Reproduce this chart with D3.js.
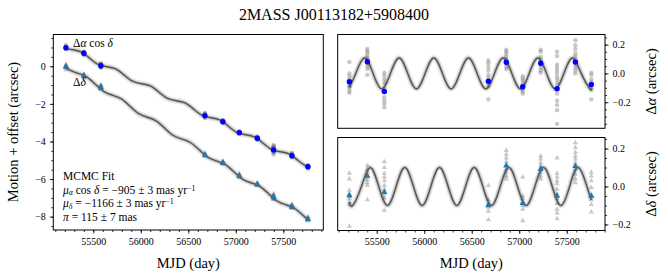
<!DOCTYPE html>
<html>
<head>
<meta charset="utf-8">
<script src="https://cdn.jsdelivr.net/npm/d3@7"></script>
<style>
  body { margin: 0; background: #fff; }
  svg text { font-family: "Liberation Serif", "Times New Roman", serif; fill: #000; }
</style>
</head>
<body>
<svg id="chart" width="668" height="280"></svg>
<script>
// epochs (MJD) and mean positions per epoch
const epochs = [55212, 55401, 55580, 56675, 56864, 57037, 57226, 57398, 57591, 57759];
const raMotion = [0.99, 0.69, 0.03, -2.63, -2.95, -3.53, -3.83, -4.45, -4.76, -5.34];
const decMotion = [-0.02, -0.50, -1.14, -4.72, -5.13, -5.83, -6.28, -6.97, -7.47, -8.14];
const raResid = [-0.058, 0.081, -0.126, -0.054, 0.077, -0.093, 0.070, -0.107, 0.079, -0.077];
const decResid = [-0.047, 0.055, -0.030, -0.100, 0.110, -0.088, 0.093, -0.050, 0.107, -0.050];

// single-frame residuals (grey) per epoch
const raFrames = [
  [0.08, 0.0, -0.02, -0.04, -0.06, -0.07, -0.09, -0.10, -0.12, -0.135],
  [0.17, 0.155, 0.14, 0.12, 0.105, 0.09, 0.07, 0.05, 0.03, -0.01],
  [0.005, -0.015, -0.04, -0.065, -0.105, -0.125, -0.165, -0.19, -0.21, -0.235],
  [0.09, 0.07, 0.045, 0.02, -0.01, -0.03, -0.05, -0.07, -0.09, -0.18],
  [0.165, 0.15, 0.135, 0.115, 0.10, 0.08, 0.065, 0.045, 0.03],
  [-0.02, -0.035, -0.05, -0.07, -0.09, -0.11, -0.125, -0.14],
  [0.165, 0.15, 0.115, 0.095, 0.075, 0.06, 0.04, 0.02, 0.005],
  [0.15, 0.12, 0.06, 0.04, 0.02, 0.0, -0.025, -0.045, -0.07, -0.105, -0.14, -0.19, -0.22, -0.255, -0.35],
  [0.23, 0.195, 0.17, 0.14, 0.12, 0.10, 0.08, 0.06, 0.04, 0.02, 0.0],
  [0.005, -0.01, -0.04, -0.06, -0.075, -0.09, -0.105, -0.18]
];
const decFrames = [
  [0.07, 0.04, -0.02, -0.04, -0.055, -0.065, -0.08, -0.095, -0.21],
  [0.11, 0.09, 0.075, 0.05, 0.035, 0.02, 0.005, -0.07],
  [0.13, 0.10, 0.07, 0.05, 0.03, 0.005, -0.015, -0.04, -0.06, -0.125],
  [0.005, -0.07, -0.09, -0.11, -0.13, -0.175],
  [0.19, 0.17, 0.15, 0.13, 0.11, 0.09, 0.075, 0.055, 0.04],
  [0.05, -0.05, -0.065, -0.085, -0.10, -0.12, -0.18],
  [0.16, 0.145, 0.125, 0.11, 0.09, 0.075, 0.055, 0.04],
  [0.15, 0.07, 0.05, 0.03, 0.015, -0.015, -0.04, -0.065, -0.09, -0.12, -0.14, -0.17],
  [0.23, 0.205, 0.18, 0.16, 0.145, 0.125, 0.11, 0.09, 0.065, 0.04, 0.02],
  [0.075, 0.055, 0.03, -0.005, -0.05, -0.07, -0.095, -0.135]
];

// fitted model, read at its turning points and crossings
const raCurveMjd = [55212, 55278.7, 55370, 55461.3, 55552.6, 55643.9, 55735.3, 55826.6, 55917.9, 56009.2,
  56100.5, 56191.8, 56283.1, 56374.4, 56465.8, 56557.1, 56648.4, 56739.7, 56831, 56922.3,
  57013.6, 57104.9, 57196.3, 57287.6, 57378.9, 57470.2, 57561.5, 57652.8, 57744.1, 57759];
const raCurveRes = [-0.097, 0, 0.107, 0, -0.107, 0, 0.107, 0, -0.107, 0, 0.107, 0, -0.107, 0, 0.107,
  0, -0.107, 0, 0.107, 0, -0.107, 0, 0.107, 0, -0.107, 0, 0.107, 0, -0.107, -0.104];
const raCurveMotion = [0.951, 0.883, 0.764, 0.430, 0.097, -0.022, -0.141, -0.475, -0.808, -0.927,
  -1.046, -1.380, -1.713, -1.832, -1.951, -2.285, -2.618, -2.737, -2.856, -3.190,
  -3.523, -3.642, -3.761, -4.095, -4.428, -4.547, -4.666, -5.000, -5.333, -5.367];
const decCurveMjd = [55212, 55247.4, 55338.7, 55430, 55521.3, 55612.6, 55703.9, 55795.3, 55886.6, 55977.9,
  56069.2, 56160.5, 56251.8, 56343.1, 56434.4, 56525.8, 56617.1, 56708.4, 56799.7, 56891,
  56982.3, 57073.6, 57164.9, 57256.3, 57347.6, 57438.9, 57530.2, 57621.5, 57712.8, 57759];
const decCurveRes = [-0.082, -0.1, 0, 0.1, 0, -0.1, 0, 0.1, 0, -0.1, 0, 0.1, 0, -0.1, 0, 0.1,
  0, -0.1, 0, 0.1, 0, -0.1, 0, 0.1, 0, -0.1, 0, 0.1, 0, -0.071];
const decCurveMotion = [-0.055, -0.186, -0.378, -0.569, -0.961, -1.352, -1.544, -1.735, -2.127, -2.518,
  -2.710, -2.901, -3.293, -3.684, -3.876, -4.067, -4.459, -4.850, -5.042, -5.233,
  -5.625, -6.016, -6.208, -6.399, -6.791, -7.182, -7.374, -7.565, -7.957, -8.175];

// fit results (mas)
const fitValues = [-905, -1166, 115];
const fitErrors = [3, 3, 7];

const xMajor = [55500, 56000, 56500, 57000, 57500];
const xMinor = d3.range(55100, 57901, 100);

const svg = d3.select('#chart');
const blue = '#0000ff', tblue = '#1f77b4';

function makePanel(id, box, xDomain, yDomain) {
  const x = d3.scaleLinear().domain(xDomain).range([box.x0, box.x1]);
  const y = d3.scaleLinear().domain(yDomain).range([box.y1, box.y0]);
  svg.append('clipPath').attr('id', id)
    .append('rect').attr('x', box.x0).attr('y', box.y0)
    .attr('width', box.x1 - box.x0).attr('height', box.y1 - box.y0);
  const g = svg.append('g').attr('clip-path', `url(#${id})`);
  return { x, y, g, box };
}

function drawCurve(p, xs, ys) {
  const pts = xs.map((d, i) => [d, ys[i]]);
  const line = d3.line().x(d => p.x(d[0])).y(d => p.y(d[1])).curve(d3.curveNatural);
  p.g.append('path').attr('d', line(pts)).attr('fill', 'none')
    .attr('stroke', '#000').attr('stroke-opacity', 0.08).attr('stroke-width', 6);
  p.g.append('path').attr('d', line(pts)).attr('fill', 'none')
    .attr('stroke', '#000').attr('stroke-opacity', 0.15).attr('stroke-width', 3.5);
  p.g.append('path').attr('d', line(pts)).attr('fill', 'none')
    .attr('stroke', '#555').attr('stroke-width', 1.4);
}

function greyDots(p, rows, base, shift, tri) {
  rows.forEach((row, i) => {
    row.forEach(v => {
      const cx = p.x(epochs[i]), cy = p.y(base[i] + v - shift[i]);
      if (tri) {
        p.g.append('path').attr('d', d3.symbol(d3.symbolTriangle, 12)())
          .attr('transform', `translate(${cx},${cy})`)
          .attr('fill', '#777').attr('fill-opacity', 0.4);
      } else {
        p.g.append('circle').attr('cx', cx).attr('cy', cy).attr('r', 2.2)
          .attr('fill', '#777').attr('fill-opacity', 0.4);
      }
    });
  });
}

function meanDots(p, vals, color, tri) {
  vals.forEach((v, i) => {
    const cx = p.x(epochs[i]), cy = p.y(v);
    if (tri) {
      p.g.append('path').attr('d', d3.symbol(d3.symbolTriangle, 17)())
        .attr('transform', `translate(${cx},${cy})`).attr('fill', color);
    } else {
      p.g.append('circle').attr('cx', cx).attr('cy', cy).attr('r', 2.7).attr('fill', color);
    }
  });
}

function frame(p) {
  const b = p.box;
  svg.append('rect').attr('x', b.x0).attr('y', b.y0)
    .attr('width', b.x1 - b.x0).attr('height', b.y1 - b.y0)
    .attr('fill', 'none').attr('stroke', '#000').attr('stroke-width', 1);
}

function styleAxis(sel) {
  sel.select('.domain').remove();
  sel.selectAll('line').attr('stroke', '#000').attr('stroke-width', 0.8);
  sel.selectAll('text').attr('font-size', 10).style('font-family', '"Liberation Serif", serif');
}

function xAxis(p) {
  svg.append('g').attr('transform', `translate(0,${p.box.y1})`)
    .call(d3.axisBottom(p.x).tickValues(xMinor).tickSize(2).tickFormat(''))
    .call(styleAxis);
  svg.append('g').attr('transform', `translate(0,${p.box.y1})`)
    .call(d3.axisBottom(p.x).tickValues(xMajor).tickSize(3.5).tickPadding(4).tickFormat(d3.format('d')))
    .call(styleAxis);
}

function yAxis(p, side, major, minor, fmt) {
  const ax = side === 'left' ? d3.axisLeft : d3.axisRight;
  const tx = side === 'left' ? p.box.x0 : p.box.x1;
  svg.append('g').attr('transform', `translate(${tx},0)`)
    .call(ax(p.y).tickValues(minor).tickSize(2).tickFormat(''))
    .call(styleAxis);
  svg.append('g').attr('transform', `translate(${tx},0)`)
    .call(ax(p.y).tickValues(major).tickSize(3.5).tickPadding(4).tickFormat(fmt))
    .call(styleAxis);
}

// ---- left panel: motion + offset
const left = makePanel('clipL', { x0: 53.3, x1: 323.3, y0: 34.5, y1: 230 }, [55079, 57921], [-8.71, 1.69]);
greyDots(left, raFrames, raMotion, raResid, false);
greyDots(left, decFrames, decMotion, decResid, true);
drawCurve(left, raCurveMjd, raCurveMotion);
drawCurve(left, decCurveMjd, decCurveMotion);
meanDots(left, raMotion, blue, false);
meanDots(left, decMotion, tblue, true);
frame(left);
xAxis(left);
yAxis(left, 'left', [-8, -6, -4, -2, 0], d3.range(-8.5, 1.6, 0.5), d3.format('d'));

// ---- right top: delta alpha
const rTop = makePanel('clipT', { x0: 337.7, x1: 605, y0: 34.5, y1: 128.3 }, [55089, 57903], [-0.381, 0.270]);
greyDots(rTop, raFrames, raResid, raResid, false);
drawCurve(rTop, raCurveMjd, raCurveRes);
meanDots(rTop, raResid, blue, false);
frame(rTop);
yAxis(rTop, 'right', [-0.2, 0, 0.2], d3.range(-0.35, 0.26, 0.05), d3.format('.1f'));

// ---- right bottom: delta delta
const rBot = makePanel('clipB', { x0: 337.7, x1: 605, y0: 137.5, y1: 230.5 }, [55089, 57903], [-0.232, 0.258]);
greyDots(rBot, decFrames, decResid, decResid, true);
drawCurve(rBot, decCurveMjd, decCurveRes);
meanDots(rBot, decResid, tblue, true);
frame(rBot);
xAxis(rBot);
yAxis(rBot, 'right', [-0.2, 0, 0.2], d3.range(-0.2, 0.26, 0.05), d3.format('.1f'));

// ---- texts
svg.append('text').attr('x', 334).attr('y', 20).attr('text-anchor', 'middle')
  .attr('font-size', 16).text('2MASS J00113182+5908400');

svg.append('text').attr('x', left.x((55079 + 57921) / 2)).attr('y', 268).attr('text-anchor', 'middle')
  .attr('font-size', 14.5).text('MJD (day)');
svg.append('text').attr('x', rBot.x((55089 + 57903) / 2)).attr('y', 268).attr('text-anchor', 'middle')
  .attr('font-size', 14.5).text('MJD (day)');

svg.append('text').attr('transform', 'translate(18,132) rotate(-90)').attr('text-anchor', 'middle')
  .attr('font-size', 14.5).text('Motion + offset (arcsec)');

function mathLabel(sel, parts) {
  parts.forEach(p => {
    const t = sel.append('tspan').text(p.t);
    if (p.i) t.attr('font-style', 'italic');
  });
}

const lblA = svg.append('text').attr('transform', 'translate(656,81.5) rotate(-90)')
  .attr('text-anchor', 'middle').attr('font-size', 14.5);
mathLabel(lblA, [{ t: 'Δ' }, { t: 'α', i: true }, { t: ' (arcsec)' }]);
const lblD = svg.append('text').attr('transform', 'translate(656,184) rotate(-90)')
  .attr('text-anchor', 'middle').attr('font-size', 14.5);
mathLabel(lblD, [{ t: 'Δ' }, { t: 'δ', i: true }, { t: ' (arcsec)' }]);

const tagA = svg.append('text').attr('x', 73).attr('y', 47).attr('font-size', 11.5);
mathLabel(tagA, [{ t: 'Δ' }, { t: 'α', i: true }, { t: ' cos ' }, { t: 'δ', i: true }]);
const tagD = svg.append('text').attr('x', 73).attr('y', 86).attr('font-size', 11.5);
mathLabel(tagD, [{ t: 'Δ' }, { t: 'δ', i: true }]);

// fit summary
const fmtPm = v => d3.format('d')(v);
const fitX = 63, fitSize = 11.5, fitLines = [180, 193.5, 207, 220.5];
svg.append('text').attr('x', fitX).attr('y', fitLines[0]).attr('font-size', fitSize).text('MCMC Fit');

function fitLine(yb, parts) {
  const t = svg.append('text').attr('x', fitX).attr('y', yb).attr('font-size', fitSize);
  parts.forEach(p => {
    const s = t.append('tspan').text(p.t);
    if (p.i) s.attr('font-style', 'italic');
    if (p.small) s.attr('font-size', fitSize * 0.68);
    if (p.dy) s.attr('dy', p.dy);
  });
}
fitLine(fitLines[1], [
  { t: 'μ', i: true }, { t: 'α', i: true, small: true, dy: 1.5 }, { t: ' cos ', dy: -1.5 },
  { t: 'δ', i: true }, { t: ` = ${fmtPm(fitValues[0])} ± ${fitErrors[0]} mas yr` },
  { t: '−1', small: true, dy: -3 }
]);
fitLine(fitLines[2], [
  { t: 'μ', i: true }, { t: 'δ', i: true, small: true, dy: 1.5 },
  { t: ` = ${fmtPm(fitValues[1])} ± ${fitErrors[1]} mas yr`, dy: -1.5 },
  { t: '−1', small: true, dy: -3 }
]);
fitLine(fitLines[3], [{ t: 'π', i: true }, { t: ` = ${fitValues[2]} ± ${fitErrors[2]} mas` }]);
</script>
</body>
</html>
